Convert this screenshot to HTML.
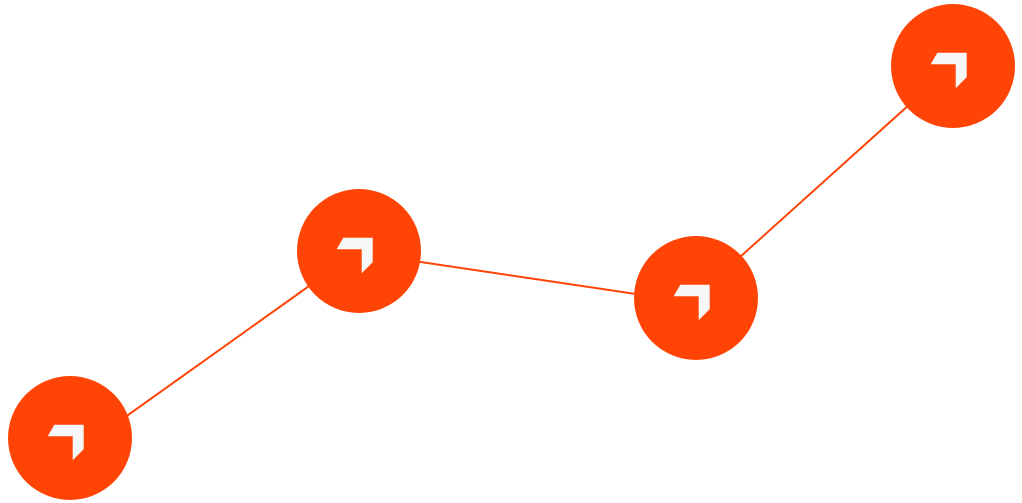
<!DOCTYPE html>
<html><head><style>html,body{margin:0;padding:0;background:#fff;}svg{display:block}</style></head>
<body>
<svg width="1022" height="503" viewBox="0 0 1022 503" xmlns="http://www.w3.org/2000/svg">
<defs>
<g id="n">
<circle r="62" fill="#FF4406"/>
<polygon points="-15.7,-13.3 13.7,-13.3 13.7,11.3 2.7,22.3 2.7,-1.7 -22.3,-1.7" fill="#F7F7F7"/>
</g>
</defs>
<g stroke="#FF4406" stroke-width="2" fill="none">
<line x1="100" y1="435" x2="340" y2="264"/>
<line x1="380" y1="256" x2="670" y2="299"/>
<line x1="720" y1="275" x2="930" y2="86"/>
</g>
<use href="#n" x="70" y="438"/>
<use href="#n" x="359" y="251"/>
<use href="#n" x="696" y="298"/>
<use href="#n" x="953" y="66"/>
</svg>
</body></html>
